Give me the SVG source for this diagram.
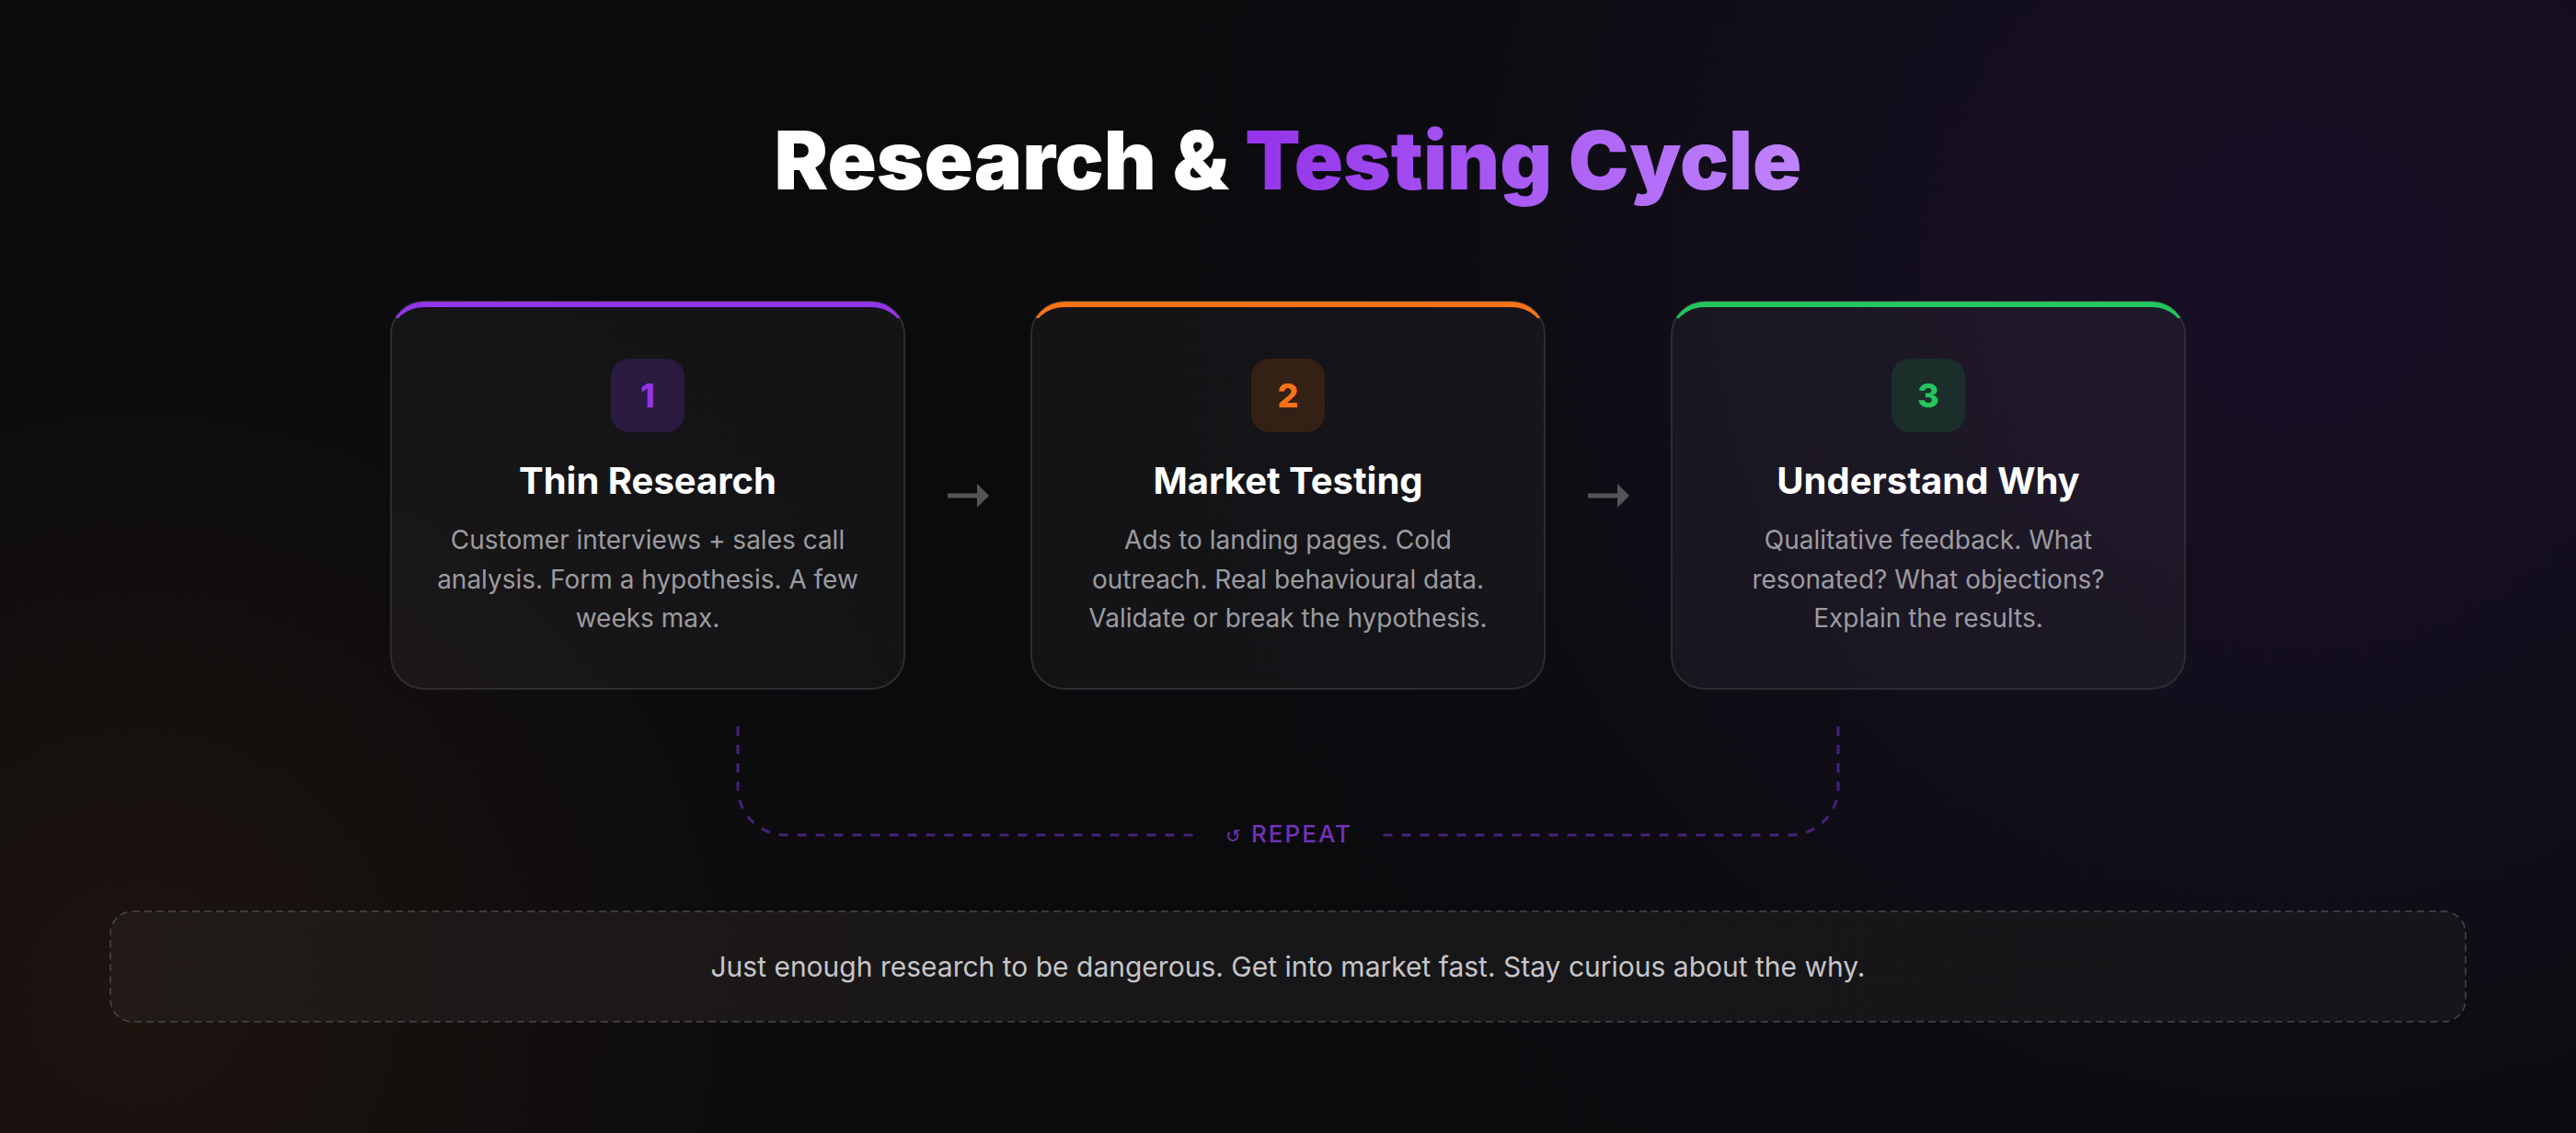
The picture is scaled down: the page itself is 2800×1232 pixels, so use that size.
<svg xmlns="http://www.w3.org/2000/svg" width="2800" height="1232" viewBox="0 0 2800 1232">
<defs>
<radialGradient id="gPurple" cx="2500" cy="300" r="1300" gradientUnits="userSpaceOnUse">
<stop offset="0" stop-color="#180f26" stop-opacity="1"/>
<stop offset="0.45" stop-color="#140f1e" stop-opacity="0.8"/>
<stop offset="1" stop-color="#0b0b0e" stop-opacity="0"/>
</radialGradient>
<radialGradient id="gWarm" cx="150" cy="1080" r="950" gradientUnits="userSpaceOnUse">
<stop offset="0" stop-color="#1e1410" stop-opacity="1"/>
<stop offset="0.5" stop-color="#16100d" stop-opacity="0.6"/>
<stop offset="1" stop-color="#0b0b0e" stop-opacity="0"/>
</radialGradient>
<linearGradient id="gTitle" x1="1355" y1="0" x2="1960" y2="0" gradientUnits="userSpaceOnUse">
<stop offset="0" stop-color="#9333ea"/>
<stop offset="1" stop-color="#c084fc"/>
</linearGradient>
<linearGradient id="gFooter" x1="0" y1="0" x2="1" y2="0">
<stop offset="0" stop-color="#211a18"/>
<stop offset="0.5" stop-color="#171618"/>
<stop offset="1" stop-color="#161519"/>
</linearGradient>
<clipPath id="cTop"><rect x="-2" y="-2" width="562" height="20"/></clipPath>
<path id="bar" fill-rule="evenodd" d="M36,0 H522 A36,36 0 0 1 558,36 V60 H0 V36 A36,36 0 0 1 36,0 Z M36,6 H522 A35,30 0 0 1 557,36 V60 H1 V36 A35,30 0 0 1 36,6 Z"/>
<marker id="ah" markerUnits="userSpaceOnUse" markerWidth="14" markerHeight="26" refX="0" refY="13" orient="auto">
<path d="M0,0 L13,13 L0,26 z" fill="#555558"/>
</marker>
<style>
.card{fill:#ffffff;fill-opacity:0.04;stroke:#2d2d31;stroke-width:2;}
.ttl{font-family:Inter,"Liberation Sans",sans-serif;font-weight:700;font-size:40px;fill:#ffffff;text-anchor:middle;}
.desc{font-family:Inter,"Liberation Sans",sans-serif;font-weight:400;font-size:28px;fill:#9c9ca0;text-anchor:middle;}
.num{font-family:Inter,"Liberation Sans",sans-serif;font-weight:800;font-size:36px;text-anchor:middle;}
.arrow{stroke:#555558;stroke-width:5;fill:none;}
.loop{stroke:#45237a;stroke-width:3;fill:none;stroke-dasharray:10 10;}
</style>
</defs>
<rect width="2800" height="1232" fill="#0b0b0e"/>
<rect width="2800" height="1232" fill="url(#gPurple)"/>
<rect width="2800" height="1232" fill="url(#gWarm)"/>

<text x="1400" y="206" font-family="Inter,'Liberation Sans',sans-serif" font-weight="900" font-size="88" text-anchor="middle" letter-spacing="0"><tspan fill="#ffffff">Research &amp; </tspan><tspan fill="url(#gTitle)">Testing Cycle</tspan></text>

<g id="connectors">
<line class="arrow" x1="1030" y1="539" x2="1062" y2="539" marker-end="url(#ah)"/>
<line class="arrow" x1="1726" y1="539" x2="1758" y2="539" marker-end="url(#ah)"/>
<path class="loop" d="M802,790 V856 A52,52 0 0 0 854,908 H1300"/>
<path class="loop" d="M1998,790 V856 A52,52 0 0 1 1946,908 H1500"/>
<text x="1332" y="916" font-family="'DejaVu Sans',sans-serif" font-size="20" fill="#7132b5">↺</text>
<text x="1360" y="916" font-family="Inter,'Liberation Sans',sans-serif" font-weight="500" font-size="26" letter-spacing="2" fill="#7132b5">REPEAT</text>
</g>

<g id="node1" transform="translate(425,328)">
<rect class="card" x="0" y="0" width="558" height="421" rx="36"/>
<use href="#bar" fill="#9333ea" clip-path="url(#cTop)"/>
<rect x="239" y="62" width="80" height="80" rx="20" fill="#2a1a3f"/>
<text class="num" x="279" y="115" fill="#9333ea">1</text>
<text class="ttl" x="279" y="209">Thin Research</text>
<text class="desc" x="279" y="269">Customer interviews + sales call</text>
<text class="desc" x="279" y="312">analysis. Form a hypothesis. A few</text>
<text class="desc" x="279" y="354">weeks max.</text>
</g>

<g id="node2" transform="translate(1121,328)">
<rect class="card" x="0" y="0" width="558" height="421" rx="36"/>
<use href="#bar" fill="#f97316" clip-path="url(#cTop)"/>
<rect x="239" y="62" width="80" height="80" rx="20" fill="#352016"/>
<text class="num" x="279" y="115" fill="#f97316">2</text>
<text class="ttl" x="279" y="209">Market Testing</text>
<text class="desc" x="279" y="269">Ads to landing pages. Cold</text>
<text class="desc" x="279" y="312">outreach. Real behavioural data.</text>
<text class="desc" x="279" y="354">Validate or break the hypothesis.</text>
</g>

<g id="node3" transform="translate(1817,328)">
<rect class="card" x="0" y="0" width="558" height="421" rx="36"/>
<use href="#bar" fill="#22c55e" clip-path="url(#cTop)"/>
<rect x="239" y="62" width="80" height="80" rx="20" fill="#1c2e2a"/>
<text class="num" x="279" y="115" fill="#22c55e">3</text>
<text class="ttl" x="279" y="209">Understand Why</text>
<text class="desc" x="279" y="269">Qualitative feedback. What</text>
<text class="desc" x="279" y="312">resonated? What objections?</text>
<text class="desc" x="279" y="354">Explain the results.</text>
</g>

<g id="footer">
<rect x="120" y="991" width="2560" height="120" rx="24" fill="url(#gFooter)" stroke="#48484c" stroke-width="1.5" stroke-dasharray="8 5"/>
<text x="1400" y="1062" font-family="Inter,'Liberation Sans',sans-serif" font-size="30" fill="#c6c6ca" text-anchor="middle">Just enough research to be dangerous. Get into market fast. Stay curious about the why.</text>
</g>
</svg>
